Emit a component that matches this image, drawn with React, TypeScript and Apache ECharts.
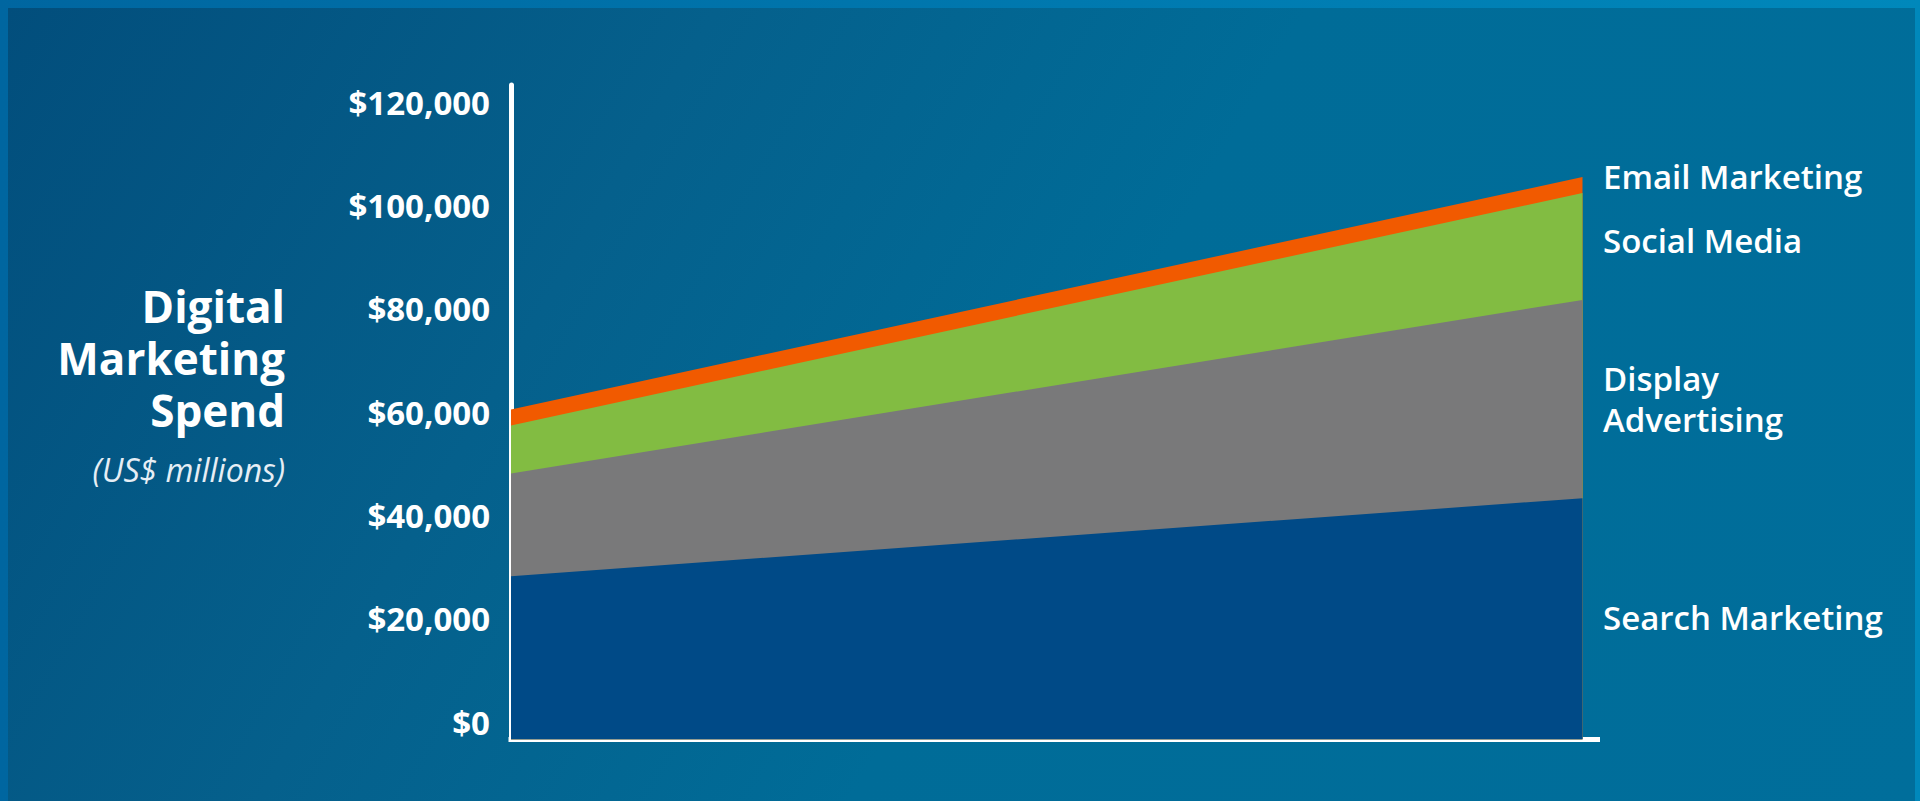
import React, { useEffect, useRef } from "react";
import * as echarts from "echarts";

// ---- data ----
const xPoints = [0, 1];
const seriesNames = ["Search Marketing", "Display Advertising", "Social Media", "Email Marketing"];
const searchMarketing = [31600, 46700];
const displayAdvertising = [19900, 38400];
const socialMedia = [9300, 20700];
const emailMarketing = [3100, 3100];
const seriesValues = [searchMarketing, displayAdvertising, socialMedia, emailMarketing];
const seriesColors = ["#004a87", "#79797a", "#82bc42", "#f15a00"];
const yInterval = 20000;
const yMax = 126700;
const xMax = 1.014;

const FONT = "'Open Sans', 'Noto Sans', sans-serif";

// cumulative (stacked) tops, computed from the series values
const stackedTops = seriesValues.map((_, i) =>
  xPoints.map((__, j) => seriesValues.slice(0, i + 1).reduce((s, arr) => s + arr[j], 0))
);

export default function App() {
  const ref = useRef<HTMLDivElement>(null);
  useEffect(() => {
    if (!ref.current) return;
    const chart = echarts.init(ref.current, null, { renderer: "svg" });
    const white = "#ffffff";
    const rightLabel = (text: string, y: number) => ({
      type: "text",
      left: 1603,
      top: y,
      style: {
        text,
        fill: white,
        font: `600 33px ${FONT}`,
        textVerticalAlign: "middle",
      },
    });
    // draw the top-most layer first so lower layers paint over it
    const order = [3, 2, 1, 0];
    chart.setOption({
      animation: false,
      backgroundColor: "transparent",
      grid: { left: 511, top: 85, width: 1086.5, height: 654.5, containLabel: false },
      xAxis: {
        type: "value",
        min: 0,
        max: xMax,
        axisLine: { show: true, lineStyle: { color: white, width: 5, cap: "square" } },
        axisTick: { show: false },
        axisLabel: { show: false },
        splitLine: { show: false },
      },
      yAxis: {
        type: "value",
        min: 0,
        max: yMax,
        interval: yInterval,
        axisLine: { show: true, lineStyle: { color: white, width: 5 } },
        axisTick: { show: false },
        splitLine: { show: false },
        axisLabel: {
          color: white,
          fontFamily: FONT,
          fontWeight: "bold",
          fontSize: 33,
          margin: 21,
          lineHeight: 35,
          verticalAlign: "bottom",
          formatter: (v: number) => (v % yInterval === 0 ? "$" + v.toLocaleString("en-US") : ""),
        },
      },
      series: order.map((i) => ({
        name: seriesNames[i],
        type: "line",
        symbol: "none",
        lineStyle: { width: 0 },
        areaStyle: { color: seriesColors[i], opacity: 1, origin: "start" },
        data: xPoints.map((x, j) => [x, stackedTops[i][j]]),
      })),
      graphic: [
        {
          type: "text",
          right: 1920 - 285,
          top: 280,
          style: {
            text: "Digital\nMarketing\nSpend",
            fill: white,
            font: `bold 44px ${FONT}`,
            lineHeight: 52,
            textAlign: "right",
          },
        },
        {
          type: "text",
          right: 1920 - 285,
          top: 453,
          style: {
            text: "(US$ millions)",
            fill: "#e6eef5",
            font: `italic 32px ${FONT}`,
            textAlign: "right",
          },
        },
        rightLabel("Email Marketing", 160),
        rightLabel("Social Media", 224),
        rightLabel("Display", 362),
        rightLabel("Advertising", 403),
        rightLabel("Search Marketing", 601),
      ],
    });
    return () => chart.dispose();
  }, []);

  return (
    <div
      style={{
        position: "fixed",
        left: 0,
        top: 0,
        width: 1920,
        height: 801,
        background: "linear-gradient(90deg, #0066a0 0%, #0088bb 100%)",
        overflow: "hidden",
      }}
    >
      <div
        style={{
          position: "absolute",
          left: 8,
          top: 8,
          right: 5,
          bottom: 0,
          background:
            "linear-gradient(120deg, #024e7c 0%, #05608c 30%, #006c98 55%, #006e9b 100%)",
        }}
      />
      <div ref={ref} style={{ position: "absolute", left: 0, top: 0, width: 1920, height: 801 }} />
    </div>
  );
}
